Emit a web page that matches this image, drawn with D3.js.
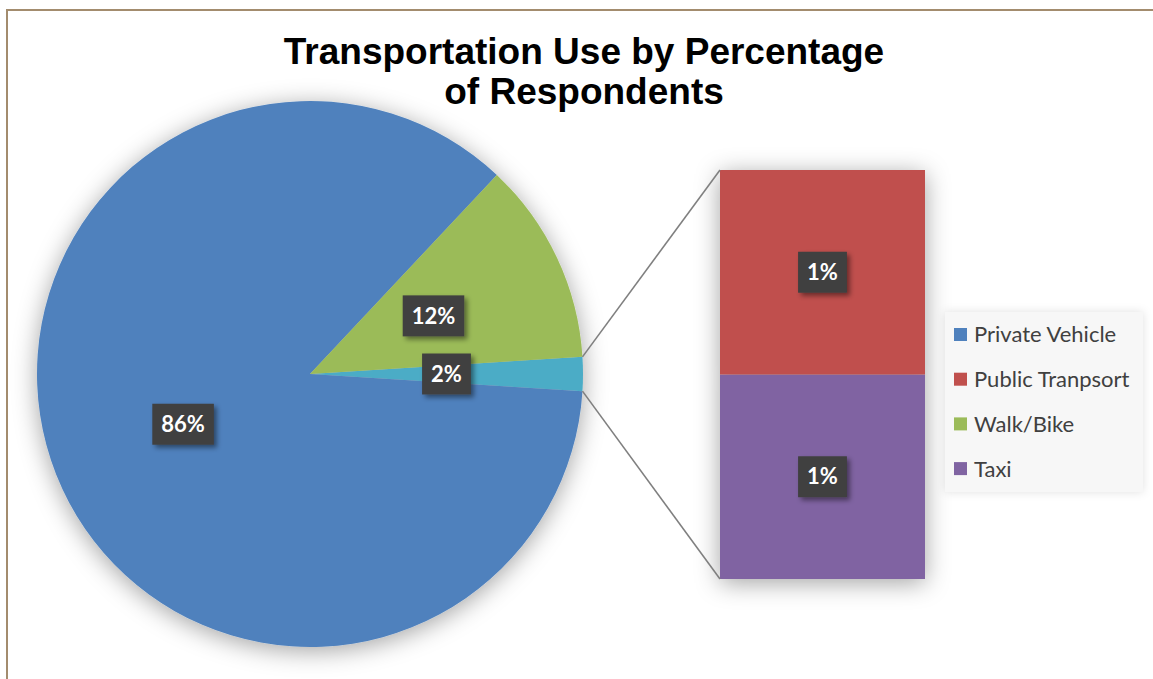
<!DOCTYPE html>
<html>
<head>
<meta charset="utf-8">
<script src="https://cdn.jsdelivr.net/npm/d3@7"></script>
<style>
  html, body { margin: 0; padding: 0; background: #fff; }
  svg { display: block; }
</style>
</head>
<body>
<svg id="chart" width="1153" height="679"></svg>
<script>
// Survey results: share of respondents by mode of transportation
const categories = ["Private Vehicle", "Public Tranpsort", "Walk/Bike", "Taxi"];
const values = [86, 1, 12, 1];
const colors = ["#4F81BD", "#C0504D", "#9BBB59", "#8064A2"];
// Which categories are broken out into the secondary stacked bar
const inSecondary = [false, true, false, true];
const otherColor = "#4BACC6";
const titleLines = ["Transportation Use by Percentage", "of Respondents"];

const W = 1153, H = 679;
const svg = d3.select("#chart");
const defs = svg.append("defs");

// soft outer shadow for the pie and the bar
const soft = defs.append("filter").attr("id", "softShadow")
  .attr("x", "-30%").attr("y", "-30%").attr("width", "160%").attr("height", "160%");
soft.append("feDropShadow").attr("dx", 0).attr("dy", 4)
  .attr("stdDeviation", 12).attr("flood-color", "#000").attr("flood-opacity", 0.36);

// small offset shadow for the value tags
const tagShadow = defs.append("filter").attr("id", "tagShadow")
  .attr("x", "-30%").attr("y", "-30%").attr("width", "160%").attr("height", "160%");
tagShadow.append("feDropShadow").attr("dx", 3).attr("dy", 3)
  .attr("stdDeviation", 2.5).attr("flood-color", "#000").attr("flood-opacity", 0.45);

// legend shadow
const legShadow = defs.append("filter").attr("id", "legShadow")
  .attr("x", "-20%").attr("y", "-20%").attr("width", "140%").attr("height", "140%");
legShadow.append("feDropShadow").attr("dx", 0).attr("dy", 0)
  .attr("stdDeviation", 5).attr("flood-color", "#000").attr("flood-opacity", 0.12);

// chart frame
svg.append("rect").attr("x", 7).attr("y", 10).attr("width", W).attr("height", H)
  .attr("fill", "#fff").attr("stroke", "#A38C6E").attr("stroke-width", 2);

// title
svg.append("text")
  .attr("x", 583).attr("y", 64)
  .attr("text-anchor", "middle")
  .style("font-family", "'Liberation Sans', Arial, sans-serif")
  .style("font-weight", "bold").style("font-size", "37px").style("fill", "#000")
  .selectAll("tspan").data(titleLines).join("tspan")
  .attr("x", 584).attr("dy", (d, i) => i === 0 ? 0 : 40)
  .text(d => d);

// ---- primary pie: the secondary categories are merged into one slice ----
const rows = categories.map((c, i) => ({ name: c, value: values[i], color: colors[i], secondary: inSecondary[i] }));
const secondaryRows = rows.filter(r => r.secondary);
const otherTotal = d3.sum(secondaryRows, r => r.value);
const total = d3.sum(rows, r => r.value);
const pieRows = [{ name: "Other", value: otherTotal, color: otherColor }]
  .concat(rows.filter(r => !r.secondary));

const cx = 310, cy = 374, R = 273;
const halfOther = Math.PI * otherTotal / total;   // half of the merged slice's angle
const pie = d3.pie().value(d => d.value).sort(null)
  .startAngle(Math.PI / 2 - halfOther)
  .endAngle(Math.PI / 2 - halfOther + 2 * Math.PI);
const arcs = pie(pieRows);
const arc = d3.arc().innerRadius(0).outerRadius(R);
const labelArc = d3.arc().innerRadius(R * 0.5).outerRadius(R * 0.5);

const pieG = svg.append("g").attr("transform", `translate(${cx},${cy})`);
pieG.append("g").attr("filter", "url(#softShadow)")
  .selectAll("path").data(arcs).join("path")
  .attr("d", arc).attr("fill", d => d.data.color);

// ---- secondary stacked bar ----
const barX0 = 720, barX1 = 925;
const y = d3.scaleLinear().domain([0, otherTotal]).range([579, 170]);
const stackOrder = secondaryRows.slice().reverse(); // bottom-up
let acc = 0;
const barSegs = stackOrder.map(r => { const s = { ...r, y0: acc, y1: acc + r.value }; acc += r.value; return s; });

const barG = svg.append("g").attr("filter", "url(#softShadow)");
barG.selectAll("rect").data(barSegs).join("rect")
  .attr("x", barX0).attr("width", barX1 - barX0)
  .attr("y", d => y(d.y1)).attr("height", d => y(d.y0) - y(d.y1))
  .attr("fill", d => d.color);

// connector lines from the merged slice to the bar
const otherArc = arcs[0];
const edgePt = a => [cx + R * Math.sin(a), cy - R * Math.cos(a)];
const pTop = edgePt(otherArc.startAngle), pBot = edgePt(otherArc.endAngle);
svg.append("line").attr("x1", pTop[0]).attr("y1", pTop[1]).attr("x2", barX0).attr("y2", y(otherTotal))
  .attr("stroke", "#808080").attr("stroke-width", 1.6);
svg.append("line").attr("x1", pBot[0]).attr("y1", pBot[1]).attr("x2", barX0).attr("y2", y(0))
  .attr("stroke", "#808080").attr("stroke-width", 1.6);

// ---- value tags ----
const fmt = v => d3.format(".0f")(v / total * 100) + "%";
function tag(x, yy, text) {
  const g = svg.append("g").attr("transform", `translate(${x},${yy})`);
  const bg = g.append("rect").attr("fill", "#404040").attr("filter", "url(#tagShadow)");
  const t = g.append("text").attr("text-anchor", "middle").attr("dy", "0.35em")
    .style("font-family", "Lato, 'Open Sans', sans-serif").style("font-weight", "bold")
    .style("font-size", "22px").style("fill", "#fff").text(text);
  const w = t.node().getComputedTextLength() + 18;
  bg.attr("x", -w / 2).attr("y", -20.5).attr("width", w).attr("height", 41);
}
arcs.forEach(a => {
  const [lx, ly] = labelArc.centroid(a);
  tag(cx + lx, cy + ly, fmt(a.data.value));
});
barSegs.forEach(s => tag((barX0 + barX1) / 2, (y(s.y0) + y(s.y1)) / 2, fmt(s.value)));

// ---- legend ----
const leg = svg.append("g");
leg.append("rect").attr("x", 945).attr("y", 312).attr("width", 198).attr("height", 180)
  .attr("fill", "#F7F7F7").attr("filter", "url(#legShadow)");
const items = leg.selectAll("g.item").data(rows).join("g").attr("class", "item")
  .attr("transform", (d, i) => `translate(954, ${334.5 + i * 44.7})`);
items.append("rect").attr("x", 0).attr("y", -6.5).attr("width", 13).attr("height", 13)
  .attr("fill", d => d.color);
items.append("text").attr("x", 20).attr("dy", "0.36em")
  .style("font-family", "Lato, 'Open Sans', sans-serif").style("font-size", "22px")
  .style("fill", "#404040").text(d => d.name);
</script>
</body>
</html>
